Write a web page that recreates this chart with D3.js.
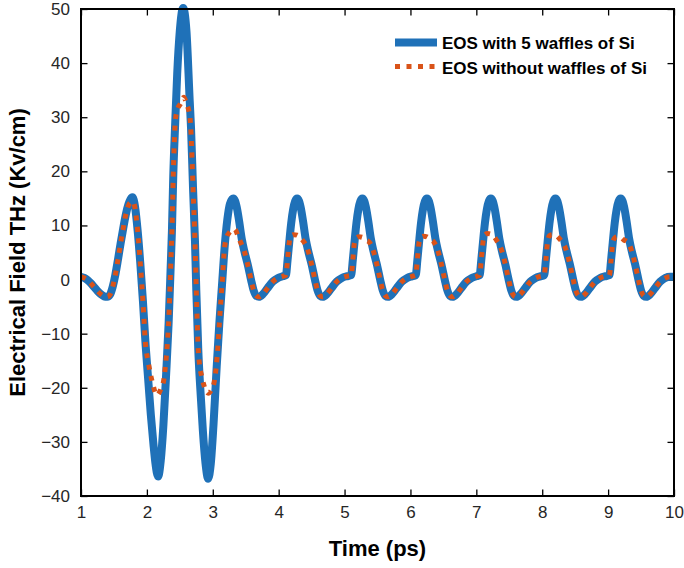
<!DOCTYPE html>
<html lang="en">
<head>
  <meta charset="utf-8">
  <script src="https://cdn.jsdelivr.net/npm/d3@7"></script>
  <style>
    body { margin: 0; background: #fff; }
    svg text { font-family: "Liberation Sans", Arial, Helvetica, sans-serif; }
    .tick line { stroke: #000; stroke-width: 1.3; }
    .tick text { font-size: 17px; fill: #262626; }
    .title { font-size: 22px; font-weight: bold; fill: #000; }
    .legend text { font-size: 17px; font-weight: bold; fill: #000; }
  </style>
</head>
<body>
  <svg id="chart" width="684" height="568"></svg>
  <script>
    // values: [time (ps), field (Kv/cm)]
    var withWaffles = [
      [1.00,0.5],[1.05,0.3],[1.10,-0.1],[1.15,-0.7],[1.20,-1.4],[1.25,-2.1],[1.30,-2.7],[1.35,-3.1],[1.40,-3.2],
      [1.44,-2.8],[1.48,-1.4],[1.52,0.8],[1.56,3.6],[1.60,6.6],[1.64,9.4],[1.68,12.0],[1.72,13.9],[1.75,14.8],[1.78,15.2],
      [1.82,13.5],[1.86,9.0],[1.90,3.0],[1.94,-4.0],[1.98,-12.0],[2.02,-18.5],[2.06,-25.0],[2.10,-30.5],[2.13,-34.0],[2.17,-36.4],
      [2.21,-33.5],[2.25,-27.0],[2.29,-18.0],[2.33,-8.0],[2.36,2.0],[2.38,9.0],[2.40,19.0],[2.43,29.0],[2.46,38.0],[2.50,46.0],[2.55,50.2],
      [2.60,46.0],[2.65,33.0],[2.67,28.0],[2.70,17.0],[2.73,7.0],[2.75,-2.0],[2.78,-13.0],[2.82,-22.0],[2.85,-28.0],[2.89,-34.0],[2.93,-36.8],
      [2.97,-34.0],[3.01,-27.0],[3.06,-16.0],[3.10,-8.0],[3.14,-1.0],[3.18,6.0],[3.22,11.0],[3.26,14.0],[3.31,15.0],
      [3.34,14.5],[3.37,13.0],[3.40,10.8],[3.44,7.5],[3.48,5.2],[3.53,2.8],[3.58,0.0],[3.62,-2.0],[3.66,-3.0],[3.70,-3.2],
      [3.76,-2.7],[3.83,-1.6],[3.91,-0.4],[3.99,0.3],[4.06,0.6],
      [4.11,0.8],[4.135,3.6],[4.16,6.8],[4.19,10.4],[4.22,13.0],[4.25,14.5],[4.28,15.0],
      [4.31,14.5],[4.34,13.0],[4.37,10.8],[4.41,7.5],[4.45,5.2],[4.50,2.8],[4.55,0.0],[4.59,-2.0],[4.63,-3.0],[4.67,-3.2],
      [4.73,-2.7],[4.80,-1.6],[4.88,-0.4],[4.96,0.3],[5.03,0.6],
      [5.10,0.8],[5.125,3.6],[5.15,6.8],[5.18,10.4],[5.21,13.0],[5.24,14.5],[5.27,15.0],
      [5.30,14.5],[5.33,13.0],[5.36,10.8],[5.40,7.5],[5.44,5.2],[5.49,2.8],[5.54,0.0],[5.58,-2.0],[5.62,-3.0],[5.66,-3.2],
      [5.72,-2.7],[5.79,-1.6],[5.87,-0.4],[5.95,0.3],[6.02,0.6],
      [6.08,0.8],[6.105,3.6],[6.13,6.8],[6.16,10.4],[6.19,13.0],[6.22,14.5],[6.25,15.0],
      [6.28,14.5],[6.31,13.0],[6.34,10.8],[6.38,7.5],[6.42,5.2],[6.47,2.8],[6.52,0.0],[6.56,-2.0],[6.60,-3.0],[6.64,-3.2],
      [6.70,-2.7],[6.77,-1.6],[6.85,-0.4],[6.93,0.3],[7.00,0.6],
      [7.05,0.8],[7.075,3.6],[7.10,6.8],[7.13,10.4],[7.16,13.0],[7.19,14.5],[7.22,15.0],
      [7.25,14.5],[7.28,13.0],[7.31,10.8],[7.35,7.5],[7.39,5.2],[7.44,2.8],[7.49,0.0],[7.53,-2.0],[7.57,-3.0],[7.61,-3.2],
      [7.67,-2.7],[7.74,-1.6],[7.82,-0.4],[7.90,0.3],[7.97,0.6],
      [8.03,0.8],[8.055,3.6],[8.08,6.8],[8.11,10.4],[8.14,13.0],[8.17,14.5],[8.20,15.0],
      [8.23,14.5],[8.26,13.0],[8.29,10.8],[8.33,7.5],[8.37,5.2],[8.42,2.8],[8.47,0.0],[8.51,-2.0],[8.55,-3.0],[8.59,-3.2],
      [8.65,-2.7],[8.72,-1.6],[8.80,-0.4],[8.88,0.3],[8.95,0.6],
      [9.02,0.8],[9.045,3.6],[9.07,6.8],[9.10,10.4],[9.13,13.0],[9.16,14.5],[9.19,15.0],
      [9.22,14.5],[9.25,13.0],[9.28,10.8],[9.32,7.5],[9.36,5.2],[9.41,2.8],[9.46,0.0],[9.50,-2.0],[9.54,-3.0],[9.58,-3.2],
      [9.64,-2.7],[9.71,-1.6],[9.79,-0.4],[9.87,0.3],[9.94,0.5],[10.00,0.5]
    ];

    var withoutWaffles = [
      [1.00,0.5],[1.05,0.3],[1.10,-0.1],[1.15,-0.7],[1.20,-1.4],[1.25,-2.1],[1.30,-2.7],[1.35,-3.1],[1.40,-3.2],
      [1.44,-2.8],[1.48,-1.4],[1.52,0.8],[1.56,3.6],[1.60,6.6],[1.64,9.4],[1.68,12.0],[1.72,13.7],[1.75,14.2],[1.79,14.4],
      [1.82,13.2],[1.86,9.0],[1.90,3.0],[1.94,-4.0],[1.98,-12.0],[2.02,-15.2],[2.05,-17.2],[2.09,-19.3],[2.15,-21.4],
      [2.21,-20.3],[2.26,-18.3],[2.28,-16.1],[2.31,-12.0],[2.33,-8.0],[2.36,2.0],[2.38,9.0],[2.40,19.0],[2.43,29.0],
      [2.46,31.3],[2.51,32.5],[2.56,33.7],[2.60,32.6],[2.63,31.5],[2.655,29.8],[2.67,27.0],[2.70,17.0],[2.73,7.0],[2.75,-2.0],
      [2.78,-13.0],[2.80,-15.8],[2.83,-17.8],[2.86,-19.3],[2.93,-21.0],[2.98,-20.4],[3.03,-18.4],[3.05,-16.4],[3.08,-12.0],
      [3.10,-8.0],[3.14,-1.0],[3.18,6.0],[3.21,7.8],[3.26,8.8],[3.33,9.3],[3.40,7.5],[3.44,6.4],[3.48,5.2],
      [3.53,2.8],[3.58,0.0],[3.62,-2.0],[3.66,-3.0],[3.70,-3.2],
      [3.76,-2.7],[3.83,-1.6],[3.91,-0.4],[3.99,0.3],[4.06,0.6],
      [4.11,0.8],[4.135,3.6],[4.16,6.8],[4.19,8.1],[4.23,8.3],[4.28,8.2],[4.33,7.7],[4.38,7.0],[4.42,6.2],[4.45,5.2],
      [4.50,2.8],[4.55,0.0],[4.59,-2.0],[4.63,-3.0],[4.67,-3.2],
      [4.73,-2.7],[4.80,-1.6],[4.88,-0.4],[4.96,0.3],[5.03,0.6],
      [5.10,0.8],[5.125,3.6],[5.15,6.8],[5.18,7.7],[5.22,7.9],[5.27,7.8],[5.32,7.3],[5.37,7.0],[5.41,6.2],[5.44,5.2],
      [5.49,2.8],[5.54,0.0],[5.58,-2.0],[5.62,-3.0],[5.66,-3.2],
      [5.72,-2.7],[5.79,-1.6],[5.87,-0.4],[5.95,0.3],[6.02,0.6],
      [6.08,0.8],[6.105,3.6],[6.13,6.8],[6.16,7.8],[6.20,8.0],[6.25,7.9],[6.30,7.4],[6.35,7.0],[6.39,6.2],[6.42,5.2],
      [6.47,2.8],[6.52,0.0],[6.56,-2.0],[6.60,-3.0],[6.64,-3.2],
      [6.70,-2.7],[6.77,-1.6],[6.85,-0.4],[6.93,0.3],[7.00,0.6],
      [7.05,0.8],[7.075,3.6],[7.10,6.8],[7.13,8.3],[7.17,8.5],[7.22,8.4],[7.27,7.9],[7.32,7.0],[7.36,6.2],[7.39,5.2],
      [7.44,2.8],[7.49,0.0],[7.53,-2.0],[7.57,-3.0],[7.61,-3.2],
      [7.67,-2.7],[7.74,-1.6],[7.82,-0.4],[7.90,0.3],[7.97,0.6],
      [8.03,0.8],[8.055,3.6],[8.08,6.8],[8.11,8.1],[8.15,8.3],[8.20,8.2],[8.25,7.7],[8.30,7.0],[8.34,6.2],[8.37,5.2],
      [8.42,2.8],[8.47,0.0],[8.51,-2.0],[8.55,-3.0],[8.59,-3.2],
      [8.65,-2.7],[8.72,-1.6],[8.80,-0.4],[8.88,0.3],[8.95,0.6],
      [9.02,0.8],[9.045,3.6],[9.07,6.8],[9.10,7.7],[9.14,7.9],[9.19,7.8],[9.24,7.3],[9.29,7.0],[9.33,6.2],[9.36,5.2],
      [9.41,2.8],[9.46,0.0],[9.50,-2.0],[9.54,-3.0],[9.58,-3.2],
      [9.64,-2.7],[9.71,-1.6],[9.79,-0.4],[9.87,0.3],[9.94,0.5],[10.00,0.5]
    ];

    var seriesNames = ["EOS with 5 waffles of Si", "EOS without waffles of Si"];
    var xTicks = [1, 2, 3, 4, 5, 6, 7, 8, 9, 10];
    var yTicks = [-40, -30, -20, -10, 0, 10, 20, 30, 40, 50];

    var svg = d3.select("#chart"),
        margin = {top: 9, right: 10, bottom: 72, left: 81},
        width = 684 - margin.left - margin.right,
        height = 568 - margin.top - margin.bottom;

    var x = d3.scaleLinear().domain([1, 10]).range([0, width]);
    var y = d3.scaleLinear().domain([-40, 50]).range([height, 0]);

    var g = svg.append("g")
      .attr("transform", "translate(" + margin.left + "," + margin.top + ")");

    g.append("defs").append("clipPath").attr("id", "plot-clip")
      .append("rect").attr("x", 0).attr("y", -6).attr("width", width).attr("height", height + 6);

    // axes, ticks pointing inward on all four sides
    g.append("g")
      .attr("transform", "translate(0," + height + ")")
      .call(d3.axisBottom(x).tickValues(xTicks).tickSizeInner(-6.5).tickSizeOuter(0).tickPadding(10))
      .call(function(a) { a.select(".domain").remove(); });

    g.append("g")
      .call(d3.axisTop(x).tickValues(xTicks).tickSizeInner(-6.5).tickSizeOuter(0).tickFormat(""))
      .call(function(a) { a.select(".domain").remove(); });

    g.append("g")
      .call(d3.axisLeft(y).tickValues(yTicks).tickSizeInner(-6.5).tickSizeOuter(0).tickPadding(11))
      .call(function(a) { a.select(".domain").remove(); });

    g.append("g")
      .attr("transform", "translate(" + width + ",0)")
      .call(d3.axisRight(y).tickValues(yTicks).tickSizeInner(-6.5).tickSizeOuter(0).tickFormat(""))
      .call(function(a) { a.select(".domain").remove(); });

    var line = d3.line()
      .x(function(d) { return x(d[0]); })
      .y(function(d) { return y(d[1]); })
      .curve(d3.curveMonotoneX);

    var plot = g.append("g").attr("clip-path", "url(#plot-clip)");

    plot.append("path")
      .datum(withWaffles)
      .attr("d", line)
      .attr("fill", "none")
      .attr("stroke", "#1f71b8")
      .attr("stroke-width", 8)
      .attr("stroke-linejoin", "round");

    plot.append("path")
      .datum(withoutWaffles)
      .attr("d", line)
      .attr("fill", "none")
      .attr("stroke", "#d95319")
      .attr("stroke-width", 5)
      .attr("stroke-dasharray", "5,6.5");

    // box
    g.append("rect")
      .attr("width", width)
      .attr("height", height)
      .attr("fill", "none")
      .attr("stroke", "#000")
      .attr("stroke-width", 2);

    // legend
    var legend = svg.append("g").attr("class", "legend");
    legend.append("line")
      .attr("x1", 395).attr("x2", 437).attr("y1", 42.5).attr("y2", 42.5)
      .attr("stroke", "#1f71b8").attr("stroke-width", 8);
    legend.append("line")
      .attr("x1", 395).attr("x2", 437).attr("y1", 66.5).attr("y2", 66.5)
      .attr("stroke", "#d95319").attr("stroke-width", 5).attr("stroke-dasharray", "5,6.5");
    legend.selectAll("text")
      .data(seriesNames)
      .enter().append("text")
      .attr("x", 442)
      .attr("y", function(d, i) { return 49 + i * 24.5; })
      .text(function(d) { return d; });

    // axis titles
    svg.append("text")
      .attr("class", "title")
      .attr("text-anchor", "middle")
      .attr("x", margin.left + width / 2)
      .attr("y", 556)
      .text("Time (ps)");

    svg.append("text")
      .attr("class", "title")
      .attr("text-anchor", "middle")
      .attr("transform", "translate(25," + (margin.top + height / 2) + ") rotate(-90)")
      .text("Electrical Field THz (Kv/cm)");
  </script>
</body>
</html>
